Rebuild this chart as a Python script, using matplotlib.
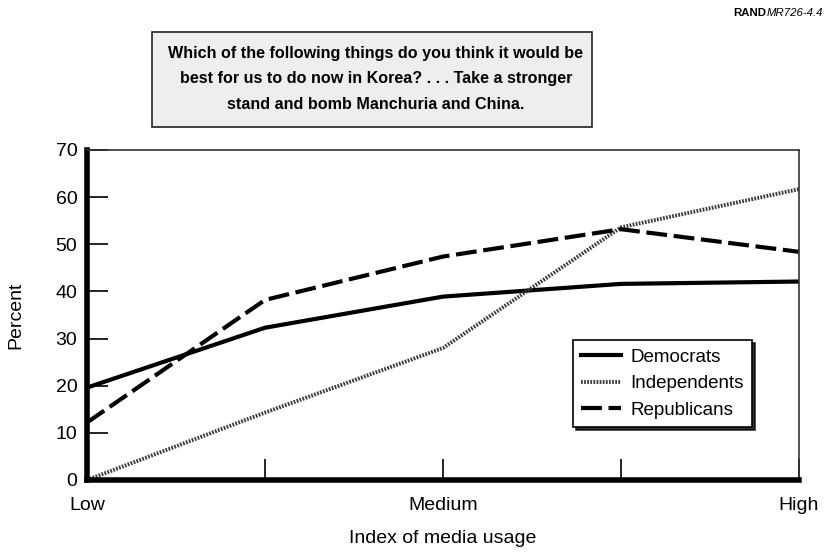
import matplotlib
matplotlib.use('Agg')
from matplotlib import pyplot as plt
from matplotlib.patches import Rectangle

plt.rcParams['font.family'] = ['Liberation Sans', 'DejaVu Sans']

## media usage index (5 steps, only 3 labelled)
levels = [0, 1, 2, 3, 4]
level_labels = ['Low', '', 'Medium', '', 'High']

## percent answering "take a stronger stand"
democrats = [19.6, 32.3, 38.9, 41.6, 42.1]
independents = [0.0, 14.3, 28.0, 53.6, 61.7]
republicans = [12.2, 38.2, 47.4, 53.2, 48.4]

title_lines = ('Which of the following things do you think it would be\n'
               'best for us to do now in Korea? . . . Take a stronger\n'
               'stand and bomb Manchuria and China.')

fig = plt.figure(figsize=(8.26, 5.52), dpi=100)
ax = fig.add_axes([87/826, 1-480/552, 712/826, 330/552])

ax.plot(levels, democrats, '-', color='black', linewidth=3, label='Democrats')
ax.plot(levels, independents, color='#3a3a3a', linewidth=2.8,
        dashes=(0.45, 0.35), label='Independents')
ax.plot(levels, republicans, color='black', linewidth=3,
        dashes=(5, 1.6), label='Republicans')

ax.set_xlim(0, 4)
ax.set_ylim(0, 70)
ax.set_yticks(range(0, 71, 10))
ax.set_xticks(levels)
ax.set_xticklabels(level_labels)

ax.tick_params(axis='both', direction='in', length=15, width=1.2,
               labelsize=14, colors='black')
ax.tick_params(axis='x', pad=12)
ax.tick_params(axis='y', pad=7)

for side in ['left', 'bottom']:
    ax.spines[side].set_linewidth(4)
    ax.spines[side].set_color('black')
for side in ['top', 'right']:
    ax.spines[side].set_linewidth(1.2)
    ax.spines[side].set_color('#333333')

ax.set_ylabel('Percent', fontsize=14, labelpad=22)
ax.set_xlabel('Index of media usage', fontsize=14, labelpad=12)

leg = ax.legend(loc='upper left', bbox_to_anchor=(573/826, 1-340/552),
                bbox_transform=fig.transFigure, borderaxespad=0,
                fancybox=False, shadow={'color': 'black', 'alpha': 0.8},
                edgecolor='black', framealpha=1, fontsize=13.5,
                handlelength=2.1, handletextpad=0.5, labelspacing=0.5,
                borderpad=0.45)
leg.get_frame().set_linewidth(1.2)

# question box on top
box = Rectangle((152/826, 1-127/552), 440/826, 95/552,
                transform=fig.transFigure, facecolor='#eeeeee',
                edgecolor='#222222', linewidth=1.2)
fig.patches.append(box)
fig.text(376/826, 1-79/552, title_lines, ha='center', va='center',
         fontsize=11.6, fontweight='bold', linespacing=1.9)

# RAND tag, bold + italic parts side by side
tag = fig.text(823/826, 1-13/552, 'MR726-4.4', ha='right', va='center',
               fontsize=8.2, style='italic')
fig.canvas.draw()
bb = tag.get_window_extent().transformed(fig.transFigure.inverted())
fig.text(bb.x0, 1-13/552, 'RAND', ha='right', va='center',
         fontsize=8.2, fontweight='bold')

plt.savefig('out.png', dpi=100)
